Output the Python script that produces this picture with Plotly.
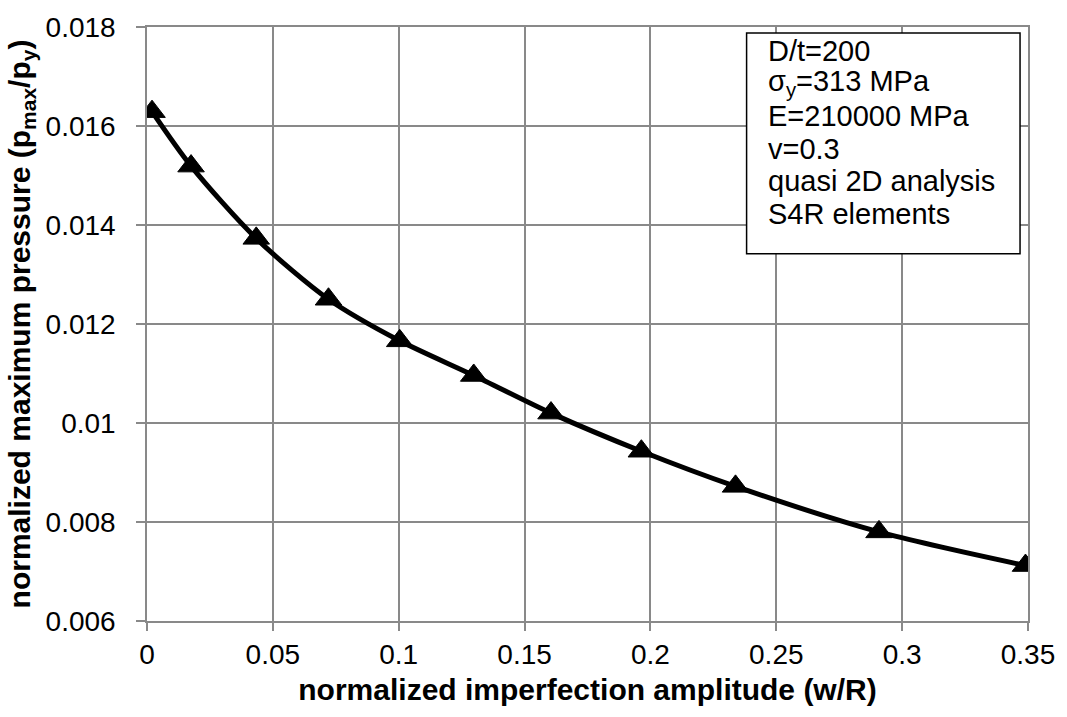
import plotly.graph_objects as go

# Data
amplitude = [0.002, 0.0175, 0.0434, 0.0721, 0.1004, 0.1298, 0.1605, 0.1964, 0.2338, 0.2908, 0.349]
pressure = [0.01629, 0.01519, 0.01373, 0.01250, 0.01166, 0.01096, 0.01020, 0.00943, 0.00872, 0.00780, 0.00712]

x_tickvals = [0, 0.05, 0.1, 0.15, 0.2, 0.25, 0.3, 0.35]
x_ticktext = ["0", "0.05", "0.1", "0.15", "0.2", "0.25", "0.3", "0.35"]
y_tickvals = [0.006, 0.008, 0.01, 0.012, 0.014, 0.016, 0.018]
y_ticktext = ["0.006", "0.008", "0.01", "0.012", "0.014", "0.016", "0.018"]

info_lines = [
    "D/t=200",
    "σ<sub>y</sub>=313 MPa",
    "E=210000 MPa",
    "v=0.3",
    "quasi 2D analysis",
    "S4R elements",
]

FONT = "Arial, 'Liberation Sans', sans-serif"
GRID = "#898989"

fig = go.Figure()
fig.add_trace(go.Scatter(
    x=amplitude, y=pressure,
    mode="lines+markers",
    line=dict(color="black", width=5, shape="spline", smoothing=0.8),
    marker=dict(symbol="triangle-up", size=23, color="black",
                line=dict(color="black", width=1)),
    showlegend=False,
))

W, H = 1067, 717
ml, mr, mt, mb = 147, 34, 21, 96
pw, ph = W - ml - mr, H - mt - mb

def px2paper_x(px):
    return (px - ml) / pw

def px2paper_y(py):
    return (H - mb - py) / ph

# info box
fig.add_shape(type="rect", xref="paper", yref="paper",
              x0=px2paper_x(750), x1=px2paper_x(1025),
              y0=px2paper_y(250), y1=px2paper_y(27),
              line=dict(color="black", width=1.5), fillcolor="white", layer="above")

line_centers = [45, 78, 111, 144, 177, 210]
for txt, yc in zip(info_lines, line_centers):
    fig.add_annotation(xref="paper", yref="paper",
                       x=px2paper_x(770), y=px2paper_y(yc),
                       xanchor="left", yanchor="middle",
                       text=txt, showarrow=False,
                       font=dict(family=FONT, size=29, color="black"))

fig.update_layout(
    width=W, height=H,
    margin=dict(l=ml, r=mr, t=mt, b=mb, pad=0),
    paper_bgcolor="white", plot_bgcolor="white",
    font=dict(family=FONT, color="black"),
)
fig.update_xaxes(
    range=[0, 0.35], tickvals=x_tickvals, ticktext=x_ticktext,
    showgrid=True, gridcolor=GRID, gridwidth=1.5,
    showline=True, linecolor=GRID, linewidth=1.5, mirror=True,
    ticks="outside", ticklen=8, tickcolor=GRID, tickwidth=1.5,
    tickfont=dict(family=FONT, size=28, color="black"),
    zeroline=False,
    title=dict(text="<b>normalized imperfection amplitude (w/R)</b>",
               font=dict(family=FONT, size=30, color="black"), standoff=10),
)
fig.update_yaxes(
    range=[0.006, 0.018], tickvals=y_tickvals, ticktext=y_ticktext,
    showgrid=True, gridcolor=GRID, gridwidth=1.5,
    showline=True, linecolor=GRID, linewidth=1.5, mirror=True,
    ticks="outside", ticklen=9, tickcolor=GRID, tickwidth=1.5,
    ticklabelstandoff=15,
    tickfont=dict(family=FONT, size=28, color="black"),
    zeroline=False,
    title=dict(text="<b>normalized maximum pressure (p<sub>max</sub>/p<sub>y</sub>)</b>",
               font=dict(family=FONT, size=30, color="black"), standoff=6),
)

fig.write_html("out.html")
